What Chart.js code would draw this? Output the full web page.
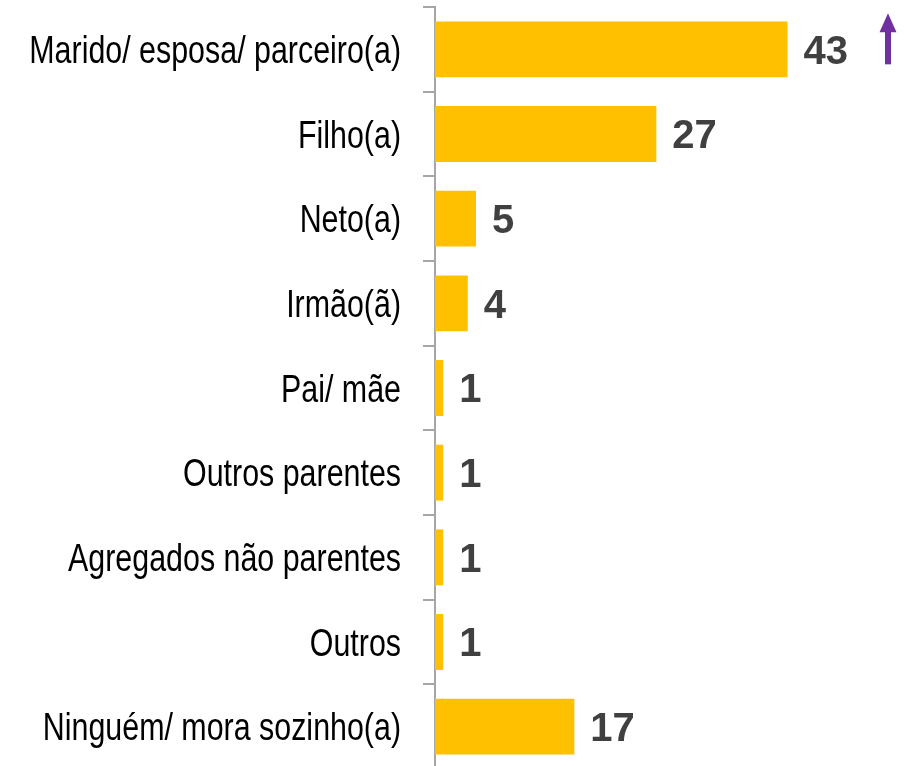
<!DOCTYPE html>
<html>
<head>
<meta charset="utf-8">
<script src="https://cdn.jsdelivr.net/npm/chart.js@4"></script>
<style>
  html, body { margin: 0; padding: 0; background: #fff; overflow: hidden; }
  #wrap { width: 908px; height: 770px; }
</style>
</head>
<body>
<div id="wrap"><canvas id="c" width="908" height="770"></canvas></div>
<script>
const categories = [
  'Marido/ esposa/ parceiro(a)',
  'Filho(a)',
  'Neto(a)',
  'Irmão(ã)',
  'Pai/ mãe',
  'Outros parentes',
  'Agregados não parentes',
  'Outros',
  'Ninguém/ mora sozinho(a)'
];
const values = [43, 27, 5, 4, 1, 1, 1, 1, 17];
const trendArrows = ['up', null, null, null, null, null, null, null, null];
const xMin = 0;
const xMax = 57.7;

const labelPlugin = {
  id: 'labels',
  afterDatasetsDraw(chart) {
    const ctx = chart.ctx;
    const meta = chart.getDatasetMeta(0);
    const yScale = chart.scales.y;
    ctx.save();
    // category labels (condensed Arial-like)
    ctx.font = '38px "Liberation Sans", Arial, sans-serif';
    ctx.fillStyle = '#000000';
    ctx.textAlign = 'right';
    ctx.textBaseline = 'alphabetic';
    const rightX = 401;
    const squeeze = 0.8;
    categories.forEach((lab, i) => {
      const y = yScale.getPixelForValue(i);
      ctx.save();
      ctx.translate(rightX, y + 13.6);
      ctx.scale(squeeze, 1);
      ctx.fillText(lab, 0, 0);
      ctx.restore();
    });
    // value labels
    ctx.font = 'bold 40px "Liberation Sans", Arial, sans-serif';
    ctx.fillStyle = '#404040';
    ctx.textAlign = 'left';
    meta.data.forEach((bar, i) => {
      ctx.fillText(String(values[i]), bar.x + 16, bar.y + 14.3);
    });
    // trend arrows
    meta.data.forEach((bar, i) => {
      if (trendArrows[i] === 'up') {
        const cx = chart.chartArea.right - 20;
        const top = bar.y - 36;
        const bottom = bar.y + 15;
        ctx.fillStyle = '#7030A0';
        ctx.fillRect(cx - 3, top + 16, 6, bottom - top - 16);
        ctx.beginPath();
        ctx.moveTo(cx, top);
        ctx.lineTo(cx + 8.5, top + 19);
        ctx.lineTo(cx - 8.5, top + 19);
        ctx.closePath();
        ctx.fill();
      }
    });
    ctx.restore();
  }
};

new Chart(document.getElementById('c'), {
  type: 'bar',
  data: {
    labels: categories,
    datasets: [{
      data: values,
      backgroundColor: '#FFC000',
      barPercentage: 0.66,
      categoryPercentage: 1.0
    }]
  },
  options: {
    indexAxis: 'y',
    responsive: false,
    animation: false,
    layout: { padding: { top: 7, bottom: 1, left: 0, right: 0 } },
    plugins: { legend: { display: false }, tooltip: { enabled: false } },
    scales: {
      x: { display: false, min: xMin, max: xMax },
      y: {
        afterFit(scale) {
          scale.width = 435;
          scale.paddingTop = 0;
          scale.paddingBottom = 0;
        },
        grid: {
          offset: true,
          drawOnChartArea: false,
          drawTicks: true,
          tickLength: 12,
          color: '#A6A6A6',
          lineWidth: 2
        },
        border: { display: true, color: '#A6A6A6', width: 2 },
        ticks: { display: false }
      }
    }
  },
  plugins: [labelPlugin]
});
</script>
</body>
</html>
